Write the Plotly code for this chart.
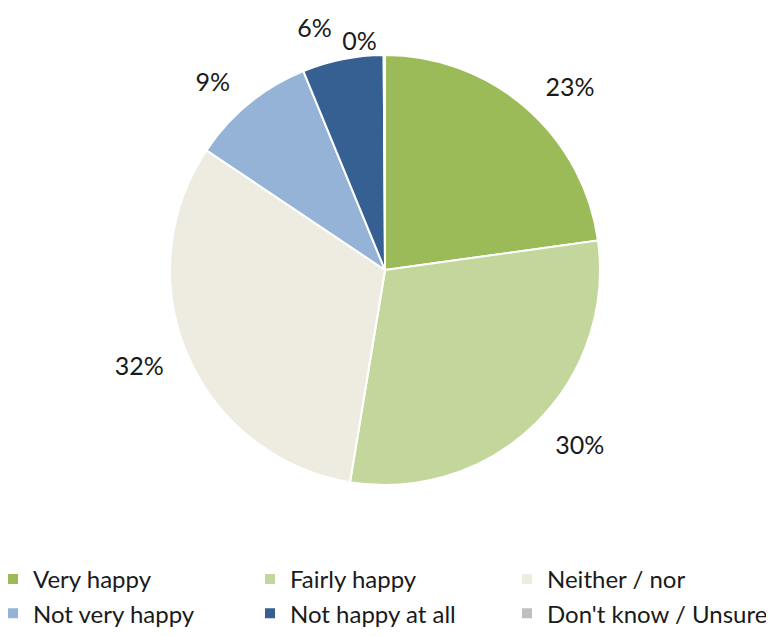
import plotly.graph_objects as go

categories = ["Very happy", "Fairly happy", "Neither / nor", "Not very happy", "Not happy at all", "Don't know / Unsure"]
values = [22.8, 29.8, 31.8, 9.4, 6.1, 0.1]
colors = ["#9BBB59", "#C3D69B", "#EEECE1", "#95B3D7", "#376092", "#BFBFBF"]

FONT = "Lato, Liberation Sans, sans-serif"
LABEL_FONT = dict(family=FONT, size=25, color="#1a1a1a")

n = len(values)
# the tiny last slice gets its label right at the pie edge (with a leader line),
# the others are placed further out by a transparent companion pie
main_text = [""] * (n - 1) + ["%{percent:.0%}"]
outer_text = ["%{percent:.0%}"] * (n - 1) + [""]

fig = go.Figure(go.Pie(
    labels=categories,
    values=values,
    sort=False,
    direction="clockwise",
    rotation=0,
    marker=dict(colors=colors, line=dict(color="white", width=2)),
    texttemplate=main_text,
    textposition="outside",
    textfont=LABEL_FONT,
    domain=dict(x=[0.2093, 0.7649], y=[0.250, 0.926]),
    hoverinfo="label+percent",
    showlegend=True,
))

fig.add_trace(go.Pie(
    labels=categories,
    values=values,
    sort=False,
    direction="clockwise",
    rotation=0,
    marker=dict(colors=["rgba(0,0,0,0)"] * n, line=dict(width=0)),
    texttemplate=outer_text,
    textposition="outside",
    textfont=LABEL_FONT,
    domain=dict(x=[0.1861, 0.7881], y=[0.2217, 0.9544]),
    hoverinfo="skip",
    showlegend=False,
))

fig.update_layout(
    width=774, height=636,
    margin=dict(l=0, r=0, t=0, b=0, autoexpand=False),
    paper_bgcolor="white",
    plot_bgcolor="white",
    font=dict(family=FONT, color="#1a1a1a"),
    legend=dict(
        orientation="h",
        x=0, xanchor="left",
        y=0.137, yanchor="top",
        entrywidth=227, entrywidthmode="pixels",
        indentation=-15,
        font=dict(family=FONT, size=24, color="#1a1a1a"),
        itemwidth=30,
    ),
    showlegend=True,
)

fig.write_html("out.html")
